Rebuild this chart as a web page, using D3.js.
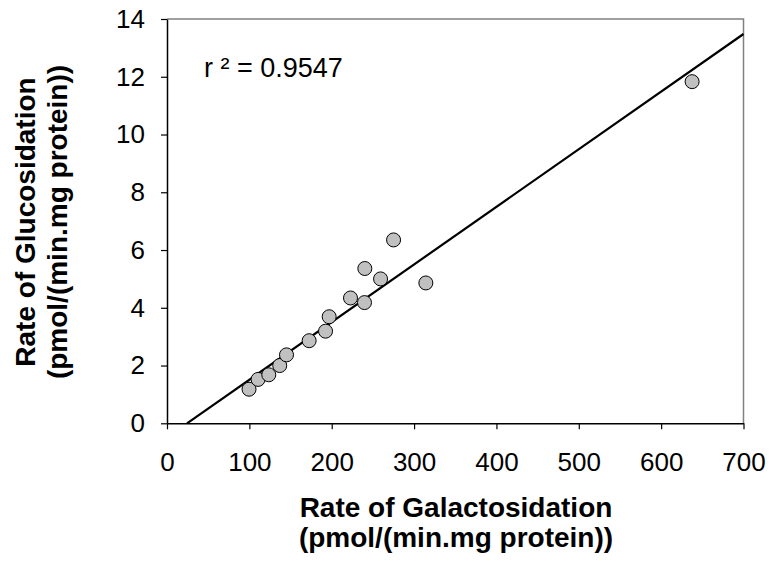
<!DOCTYPE html>
<html>
<head>
<meta charset="utf-8">
<script src="https://cdn.jsdelivr.net/npm/d3@7"></script>
<style>
  body { margin: 0; background: #fff; }
  text { font-family: "Liberation Sans", Arial, sans-serif; }
</style>
</head>
<body>
<div id="vis-container"></div>
<script>
// data
const galactosidation = [99.6, 110.6, 123.6, 136.9, 145.1, 172.6, 192.5, 196.9, 222.8, 239.8, 240.2, 259.3, 275.1, 314.3, 637.6];
const glucosidation   = [1.18, 1.52, 1.68, 2.0, 2.37, 2.86, 3.19, 3.69, 4.34, 4.18, 5.36, 5.0, 6.35, 4.86, 11.83];
// regression line end points (x values, y values)
const fitX = [24.3, 700];
const fitY = [0, 13.48];
const xTicks = [0, 100, 200, 300, 400, 500, 600, 700];
const yTicks = [0, 2, 4, 6, 8, 10, 12, 14];
const rSquared = "r \u00B2 = 0.9547";

let width = 772, height = 563;
let margins = {top: 19, right: 28.5, bottom: 139.7, left: 167};
let visWidth = width - margins.left - margins.right;
let visHeight = height - margins.top - margins.bottom;

let svg = d3.select("#vis-container").append("svg")
    .attr("width", width).attr("height", height);

let viewport = svg.append("g")
    .attr("transform", "translate(" + margins.left + "," + margins.top + ")");

let xScale = d3.scaleLinear().domain([0, 700]).range([0, visWidth]);
let yScale = d3.scaleLinear().domain([0, 14]).range([visHeight, 0]);

// frame top/right (grey)
viewport.append("path")
    .attr("d", "M0,0H" + visWidth + "V" + visHeight)
    .attr("fill", "none").attr("stroke", "#808080").attr("stroke-width", 1.5);

// axes
let xAxis = viewport.append("g")
    .attr("transform", "translate(0," + visHeight + ")")
    .call(d3.axisBottom(xScale).tickValues(xTicks).tickSize(6).tickPadding(23).tickSizeOuter(0));
let yAxis = viewport.append("g")
    .call(d3.axisLeft(yScale).tickValues(yTicks).tickSize(6).tickPadding(16).tickSizeOuter(0));

[xAxis, yAxis].forEach(a => {
  a.attr("font-size", 26).attr("font-family", null);
  a.select(".domain").attr("stroke", "#000").attr("stroke-width", 1.5);
  a.selectAll(".tick line").attr("stroke", "#000").attr("stroke-width", 1.2);
  a.selectAll(".tick text").attr("fill", "#000");
});

// regression line
let line = d3.line().x(d => xScale(d[0])).y(d => yScale(d[1]));
viewport.append("path")
    .attr("d", line(d3.zip(fitX, fitY)))
    .attr("fill", "none").attr("stroke", "#000").attr("stroke-width", 2.2);

// points
viewport.append("g").selectAll("circle")
    .data(d3.zip(galactosidation, glucosidation)).enter().append("circle")
    .attr("cx", d => xScale(d[0]))
    .attr("cy", d => yScale(d[1]))
    .attr("r", 7)
    .attr("fill", "#c0c0c0").attr("stroke", "#000").attr("stroke-width", 1);

// r squared
viewport.append("text").text(rSquared)
    .attr("x", 37).attr("y", 58).attr("font-size", 27);

// axis titles
let xt = svg.append("text").attr("text-anchor", "middle")
    .attr("font-size", 28).attr("font-weight", "bold");
xt.append("tspan").attr("x", 456).attr("y", 517).text("Rate of Galactosidation");
xt.append("tspan").attr("x", 456).attr("y", 547).text("(pmol/(min.mg protein))");

let yt = svg.append("text").attr("text-anchor", "middle")
    .attr("font-size", 28).attr("font-weight", "bold")
    .attr("transform", "translate(0,222) rotate(-90)");
yt.append("tspan").attr("x", 0).attr("y", 35).text("Rate of Glucosidation");
yt.append("tspan").attr("x", 0).attr("y", 67).text("(pmol/(min.mg protein))");
</script>
</body>
</html>
